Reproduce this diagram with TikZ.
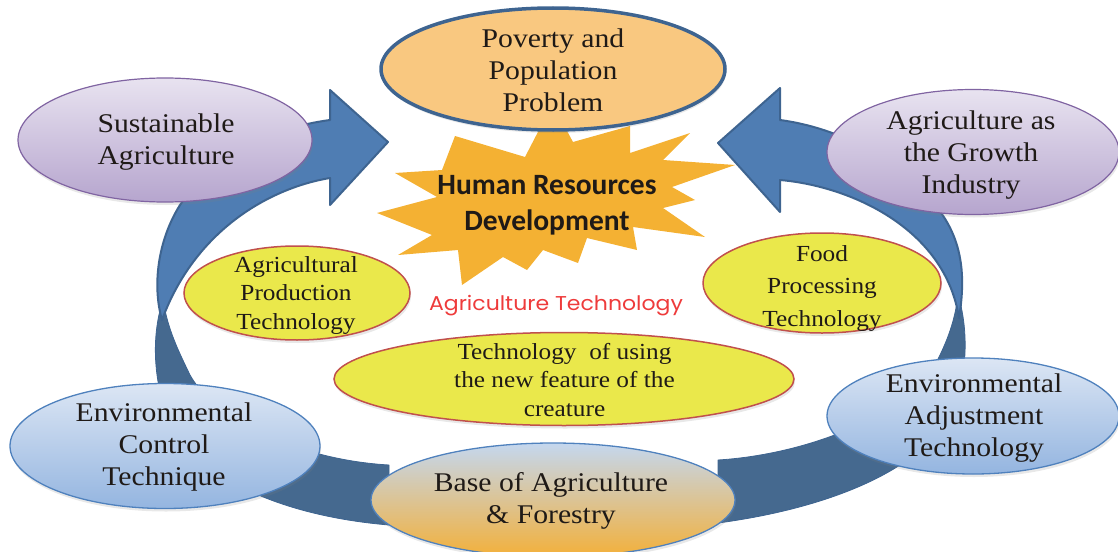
\documentclass[tikz,border=0pt]{standalone}
\usepackage{fontspec}
\setmainfont{Liberation Serif}[FakeStretch=1.1]
\newfontfamily\calfont{Carlito}
\newfontfamily\gothfont{Poppins}[FakeStretch=1.1]
\usetikzlibrary{shapes.geometric,shadows}
\definecolor{arrL}{HTML}{4F7DB3}
\definecolor{arrD}{HTML}{45698F}
\definecolor{arrB}{HTML}{3E6490}
\definecolor{povF}{HTML}{F9C880}
\definecolor{povB}{HTML}{3E6490}
\definecolor{purT}{HTML}{E8E3F0}
\definecolor{purB}{HTML}{B6A5CE}
\definecolor{purD}{HTML}{8064A2}
\definecolor{yelF}{HTML}{EAE84B}
\definecolor{yelD}{HTML}{C0504D}
\definecolor{bluT}{HTML}{DCE6F4}
\definecolor{bluB}{HTML}{94B5E0}
\definecolor{bluD}{HTML}{4F81BD}
\definecolor{basT}{HTML}{C4D7EF}
\definecolor{basM}{HTML}{D6CAB5}
\definecolor{basB}{HTML}{F3B03A}
\definecolor{starF}{HTML}{F4B133}
\definecolor{redT}{HTML}{EE3B3B}
\definecolor{txtC}{HTML}{1F1A17}
\tikzset{
  ellbase/.style={ellipse, inner sep=0pt, drop shadow={shadow xshift=1pt, shadow yshift=-3pt, opacity=0.18}},
  purp/.style={ellbase, draw=purD, line width=1.2pt, top color=purT, bottom color=purB},
  yel/.style={ellbase, draw=yelD, line width=1.5pt, fill=yelF},
  blu/.style={ellbase, draw=bluD, line width=1.3pt, top color=bluT, bottom color=bluB},
  bigtxt/.style={align=center, font=\fontsize{27}{32}\selectfont, text=txtC, inner sep=0pt},
  smalltxt/.style={align=center, font=\fontsize{23}{28.5}\selectfont, text=txtC, inner sep=0pt},
  lightband/.style={fill=arrL, draw=arrB, line width=2pt, line join=round},
  darkband/.style={fill=arrD, draw=arrB, line width=0.8pt, line join=round},
}
\begin{document}
\begin{tikzpicture}[x=1pt,y=-1pt]
\useasboundingbox (0,0) rectangle (1118,551);
% left circular arrow
\filldraw[darkband] (163,300) .. controls (153,330) and (152,370) .. (165,410) .. controls (185,470) and (270,515) .. (389,525) -- (389,465) .. controls (300,460) and (215,420) .. (190,375) .. controls (178,350) and (168,330) .. (163,300) -- cycle;
\filldraw[lightband] (330,120) -- (330,90) -- (388,142) -- (330,205) -- (330,178) .. controls (270,188) and (195,230) .. (162,320) .. controls (152,285) and (158,240) .. (180,205) .. controls (215,155) and (270,128) .. (330,120) -- cycle;
% right circular arrow
\filldraw[darkband] (958,295) .. controls (969,330) and (968,380) .. (950,415) .. controls (920,470) and (830,508) .. (718,523) -- (718,460) .. controls (800,455) and (900,420) .. (935,365) .. controls (948,340) and (955,320) .. (958,295) -- cycle;
\filldraw[lightband] (780,120) -- (780,88) -- (718,143) -- (780,212) -- (780,180) .. controls (850,186) and (945,228) .. (959,318) .. controls (967,270) and (960,235) .. (935,205) .. controls (900,160) and (840,128) .. (780,120) -- cycle;
% starburst
\fill[starF] (455,136) -- (525,157) -- (540,128) -- (560,118) -- (573,142) -- (630,126) -- (630,153) -- (690,133) -- (663,160) -- (735,165) -- (672,187) -- (695,200) -- (663,208) -- (705,237) -- (633,227) -- (637,250) -- (587,238) -- (578,263) -- (543,250) -- (527,270) -- (503,257) -- (462,285) -- (458,250) -- (398,255) -- (432,235) -- (377,213) -- (437,197) -- (395,173) -- (442,170) -- cycle;
\node[align=center, font=\calfont\bfseries\fontsize{29.5}{36}\selectfont, text=txtC, inner sep=0pt] (hrd) at (547,205) {Human Resources\\Development};
% ellipses
\node[ellbase, draw=povB, line width=3.5pt, fill=povF, minimum width=344pt, minimum height=122pt] (pov) at (553,69) {};
\node[purp, minimum width=294pt, minimum height=124pt] (sus) at (165,140) {};
\node[purp, minimum width=292pt, minimum height=125pt] (agi) at (973,152) {};
\node[yel, minimum width=226pt, minimum height=94pt] (apt) at (297,293) {};
\node[yel, minimum width=238pt, minimum height=100pt] (fpt) at (822,283) {};
\node[yel, minimum width=460pt, minimum height=93pt] (tnf) at (564,379) {};
\node[blu, minimum width=310pt, minimum height=125pt] (ect) at (165,446) {};
\node[blu, minimum width=292pt, minimum height=116pt] (eat) at (973,416) {};
\node[ellbase, draw=bluD, line width=1.3pt, top color=basT, middle color=basM, bottom color=basB, minimum width=364pt, minimum height=114pt] (base) at (553,500) {};
% texts
\node[bigtxt] (povT) at (553,70) {Poverty and\\Population\\Problem};
\node[bigtxt] (susT) at (166,142.5) {Sustainable\\Agriculture};
\node[bigtxt] (agiT) at (971,155) {Agriculture as\\the Growth\\Industry};
\node[bigtxt] (ectT) at (164,447.5) {Environmental\\Control\\Technique};
\node[bigtxt] (eatT) at (974,418.5) {Environmental\\Adjustment\\Technology};
\node[bigtxt] (baseT) at (551,500.5) {Base of Agriculture\\\& Forestry};
\node[smalltxt] (aptT) at (296,295) {Agricultural\\Production\\Technology};
\node[smalltxt, font=\fontsize{23}{32.5}\selectfont] (fptT) at (822,288) {Food\\Processing\\Technology};
\node[smalltxt] (tnfT) at (564.5,380) {Technology~ of using\\the new feature of the\\creature};
\node[font=\gothfont\fontsize{20}{24}\selectfont, text=redT, inner sep=0pt] (agt) at (556,305.5) {Agriculture Technology};
\end{tikzpicture}
\end{document}
